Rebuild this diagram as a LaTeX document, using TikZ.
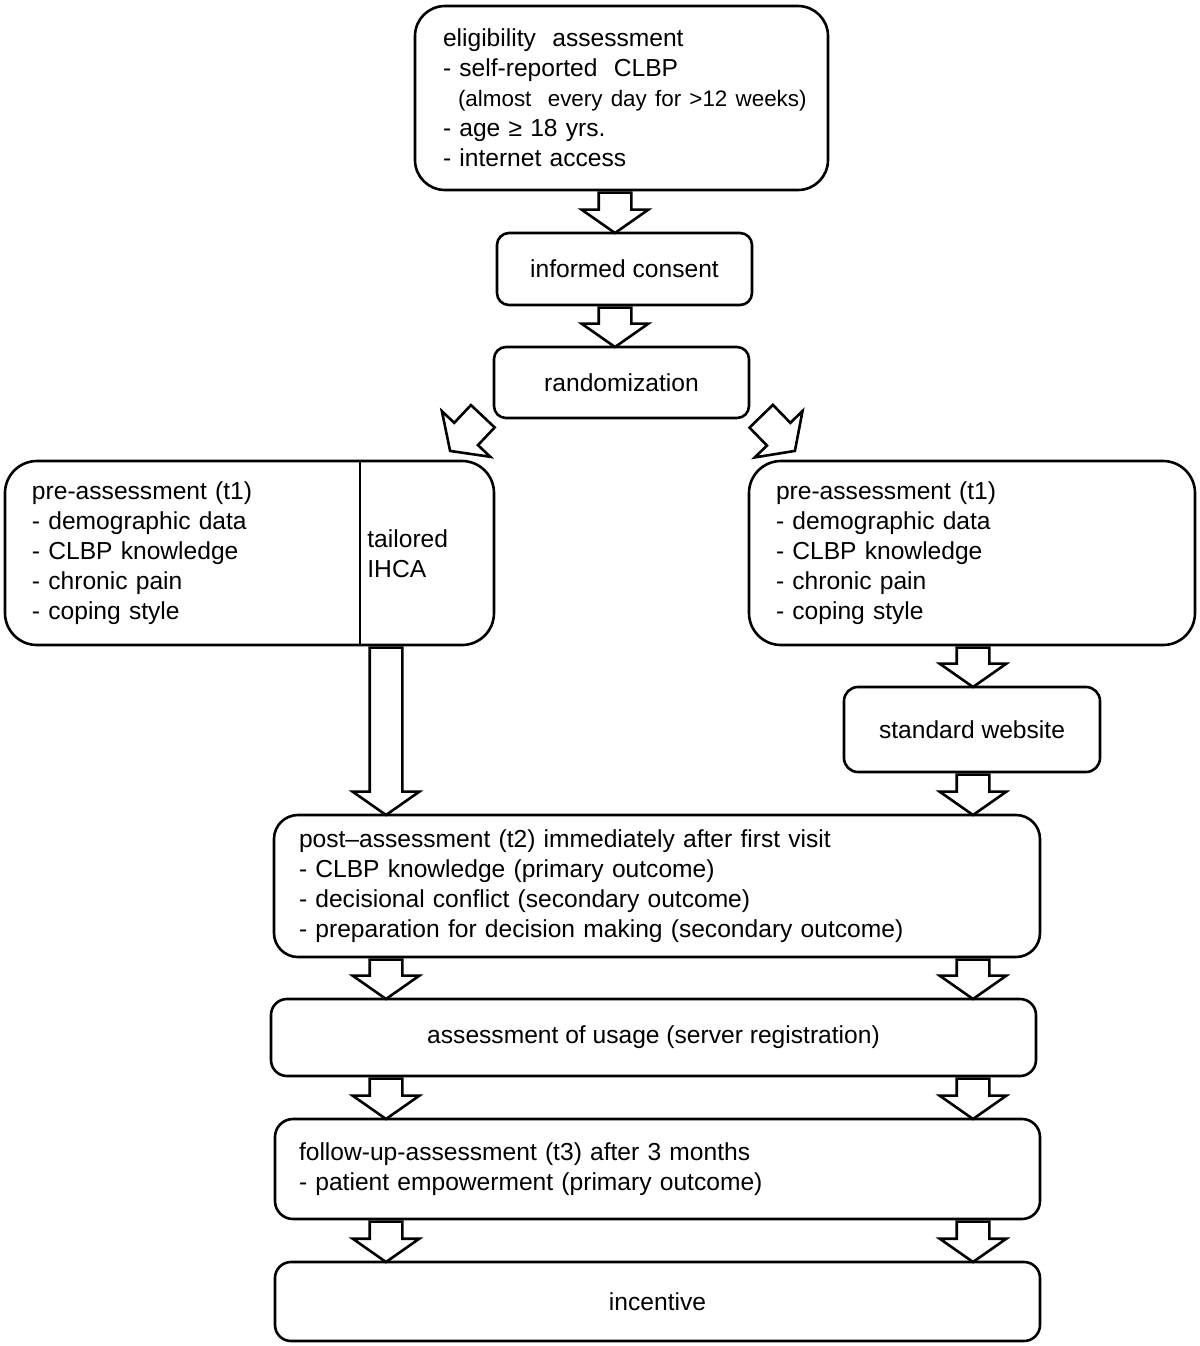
\documentclass[tikz,border=0pt]{standalone}
\usepackage{fontspec}
\setmainfont{Liberation Sans}
\usetikzlibrary{shapes.arrows,calc}

\tikzset{
  box/.style={draw, line width=1.3pt, rounded corners=#1, inner sep=0pt,
    font=\fontsize{12.3}{15}\selectfont},
  box/.default=7pt,
  fat/.style={single arrow, draw, line width=1.3pt, fill=white, inner xsep=0pt, inner ysep=7.5pt,
    minimum width=32pt, single arrow head extend=8.5pt, single arrow tip angle=110}
}
% block arrow from #1 to #2
\newcommand{\fatarrow}[2]{%
  \path let \p1=#1, \p2=#2, \n1={atan2(\y2-\y1,\x2-\x1)}, \n2={veclen(\x2-\x1,\y2-\y1)} in
    node[fat, anchor=tail, rotate=\n1, minimum height=\n2] at (\p1) {};}

\begin{document}
\begin{tikzpicture}[x=0.5pt,y=-0.5pt]
 \useasboundingbox (0,0) rectangle (1200,1346);
 % boxes
 \node[box=15pt, minimum width=206.5pt, minimum height=92pt, text width=178.5pt, align=left]
   (elig) at (621.5,98)
   {eligibility~ assessment\\
    - self-reported~ CLBP\\
    \mbox{\hspace*{7.5pt}\fontsize{11.2}{15}\selectfont(almost~ every day for >12 weeks)}\\
    - age ≥ 18 yrs.\\
    - internet access};
 \node[box=6pt, minimum width=127.5pt, minimum height=36pt] (consent) at (624.5,269) {informed consent};
 \node[box=6pt, minimum width=127.5pt, minimum height=35.5pt] (rand) at (621.5,382.5) {randomization};
 \node[box=16pt, minimum width=244.5pt, minimum height=92pt, text width=217.5pt, align=left]
   (preleft) at (249.5,553)
   {pre-assessment (t1)\\
    - demographic data\\
    - CLBP knowledge\\
    - chronic pain\\
    - coping style};
 \node[box=16pt, minimum width=223pt, minimum height=92pt, text width=196pt, align=left]
   (preright) at (972,553)
   {pre-assessment (t1)\\
    - demographic data\\
    - CLBP knowledge\\
    - chronic pain\\
    - coping style};
 \node[box=7pt, minimum width=128pt, minimum height=42.5pt] (website) at (972,729.5) {standard website};
 \node[box=12pt, minimum width=383pt, minimum height=71pt, text width=358pt, align=left]
   (post) at (657,886)
   {post--assessment (t2) immediately after first visit\\
    - CLBP knowledge (primary outcome)\\
    - decisional conflict (secondary outcome)\\
    - preparation for decision making (secondary outcome)};
 \node[box=8pt, minimum width=382.5pt, minimum height=38.5pt] (usage) at (653.5,1037.5)
   {assessment of usage (server registration)};
 \node[box=9pt, minimum width=382.5pt, minimum height=50pt, text width=358.5pt, align=left]
   (follow) at (657.5,1169)
   {follow-up-assessment (t3) after 3 months\\
    - patient empowerment (primary outcome)};
 \node[box=8pt, minimum width=382.5pt, minimum height=39.5pt] (incentive) at (657.5,1301.5) {incentive};

 % tailored part of the left box
 \coordinate (div) at (360,0);
 \draw[line width=1.3pt] (div |- preleft.north) -- (div |- preleft.south);
 \node[anchor=west, align=left, inner sep=0pt, font=\fontsize{12.3}{15}\selectfont]
   (ihca) at (367,554) {tailored\\IHCA};

 % arrows
 \coordinate (midx) at (615,0);
 \coordinate (leftx) at (386,0);
 \coordinate (rightx) at (973,0);
 \coordinate (tipl) at (451,450);
 \coordinate (tipr) at (794,450);
 \fatarrow{(elig.south -| midx)}{(consent.north -| midx)}
 \fatarrow{(consent.south -| midx)}{(rand.north -| midx)}
 \fatarrow{($(rand.south west)+(-9,-4)$)}{(tipl)}
 \fatarrow{($(rand.south east)+(10,-4)$)}{(tipr)}
 \fatarrow{(preleft.south -| leftx)}{(post.north -| leftx)}
 \fatarrow{(preright.south -| rightx)}{(website.north -| rightx)}
 \fatarrow{(website.south -| rightx)}{(post.north -| rightx)}
 \fatarrow{(post.south -| leftx)}{(usage.north -| leftx)}
 \fatarrow{(post.south -| rightx)}{(usage.north -| rightx)}
 \fatarrow{(usage.south -| leftx)}{(follow.north -| leftx)}
 \fatarrow{(usage.south -| rightx)}{(follow.north -| rightx)}
 \fatarrow{(follow.south -| leftx)}{(incentive.north -| leftx)}
 \fatarrow{(follow.south -| rightx)}{(incentive.north -| rightx)}
\end{tikzpicture}
\end{document}
